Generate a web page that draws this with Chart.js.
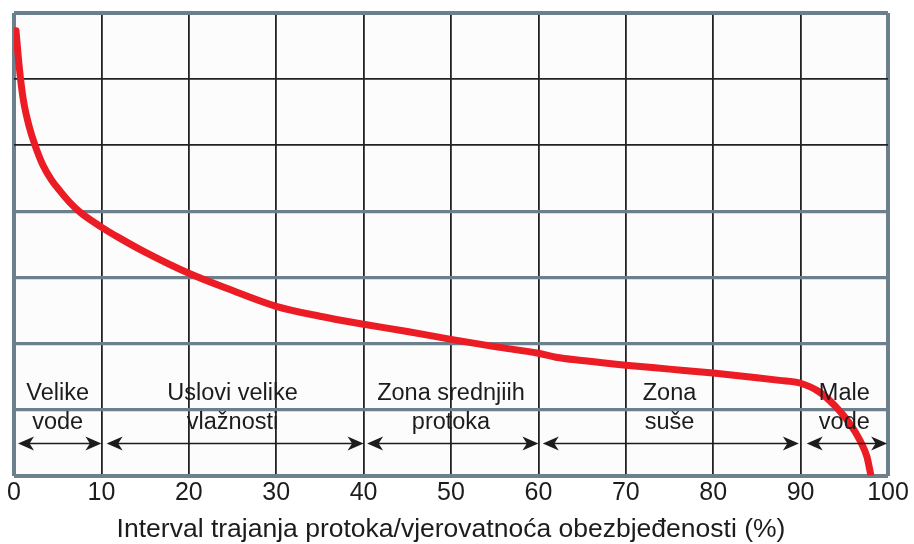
<!DOCTYPE html>
<html>
<head>
<meta charset="utf-8">
<script src="https://cdn.jsdelivr.net/npm/chart.js@4.4.1/dist/chart.umd.min.js"></script>
<style>
  html, body { margin: 0; padding: 0; background: #ffffff; }
  #wrap { width: 914px; height: 544px; position: relative; }
</style>
</head>
<body>
<div id="wrap"><canvas id="c" width="914" height="544"></canvas></div>
<script>
// ---- data ----
const durationPct = [0.23, 0.5, 0.75, 1.1, 1.7, 2.4, 3.3, 4.3, 5.3, 6.4, 7.6, 10, 12, 15, 20, 25, 30, 35, 40, 45, 50, 55, 60, 62, 65, 70, 75, 80, 85, 87.6, 89.9, 92.2, 94.1, 95.6, 96.8, 97.6, 98.0];
const flowValues  = [6.73, 6.32, 6.0, 5.66, 5.3, 5.0, 4.7, 4.47, 4.3, 4.13, 3.98, 3.76, 3.6, 3.38, 3.06, 2.80, 2.56, 2.41, 2.29, 2.18, 2.06, 1.95, 1.85, 1.79, 1.74, 1.67, 1.61, 1.55, 1.48, 1.44, 1.40, 1.26, 1.03, 0.79, 0.53, 0.28, 0.03];
const xTickValues = [0, 10, 20, 30, 40, 50, 60, 70, 80, 90, 100];
const zoneLine1   = ["Velike", "Uslovi velike", "Zona srednjiih", "Zona", "Male"];
const zoneLine2   = ["vode", "vlažnosti", "protoka", "suše", "vode"];
const zoneFrom    = [0, 10, 40, 60, 90];
const zoneTo      = [10, 40, 60, 90, 100];
const arrowFrom   = [0.46, 10.6, 40.4, 60.5, 90.7];
const arrowTo     = [10, 40, 60, 89.8, 99.9];
const xTitle = "Interval trajanja protoka/vjerovatnoća obezbjeđenosti (%)";

const FONT = "'Liberation Sans', Arial, sans-serif";
const GREY = '#6b7f8c';
const DARK = '#222222';

const bgPlugin = {
  id: 'bg',
  beforeDraw(chart) {
    const {ctx, chartArea: a} = chart;
    ctx.save();
    ctx.fillStyle = '#fcfcfc';
    ctx.fillRect(a.left, a.top, a.right - a.left, a.bottom - a.top);
    ctx.restore();
  }
};

function arrowHead(ctx, x, y, dir) {
  const L = 16, W = 7;
  ctx.beginPath();
  ctx.moveTo(x, y);
  ctx.lineTo(x - dir * L, y - W);
  ctx.lineTo(x - dir * L * 0.72, y);
  ctx.lineTo(x - dir * L, y + W);
  ctx.closePath();
  ctx.fill();
}

const zonePlugin = {
  id: 'zones',
  afterDatasetsDraw(chart) {
    const {ctx, scales: {x, y}} = chart;
    ctx.save();
    ctx.fillStyle = '#1c1c1c';
    ctx.strokeStyle = '#1c1c1c';
    ctx.font = '23.5px ' + FONT;
    ctx.textAlign = 'center';
    ctx.textBaseline = 'middle';
    const y1 = y.getPixelForValue(1.24);
    const y2 = y.getPixelForValue(0.80);
    const ya = y.getPixelForValue(0.485);
    for (let i = 0; i < zoneLine1.length; i++) {
      const cx = x.getPixelForValue((zoneFrom[i] + zoneTo[i]) / 2);
      ctx.fillText(zoneLine1[i], cx, y1);
      ctx.fillText(zoneLine2[i], cx, y2);
      const xa = x.getPixelForValue(arrowFrom[i]);
      const xb = x.getPixelForValue(arrowTo[i]);
      ctx.lineWidth = 1.6;
      ctx.beginPath();
      ctx.moveTo(xa + 6, ya);
      ctx.lineTo(xb - 6, ya);
      ctx.stroke();
      arrowHead(ctx, xa, ya, -1);
      arrowHead(ctx, xb, ya, 1);
    }
    ctx.restore();
  }
};

new Chart(document.getElementById('c'), {
  type: 'line',
  data: {
    datasets: [{
      data: durationPct.map((v, i) => ({x: v, y: flowValues[i]})),
      borderColor: '#ec1c24',
      borderWidth: 7,
      borderCapStyle: 'round',
      borderJoinStyle: 'round',
      pointRadius: 0,
      fill: false,
      cubicInterpolationMode: 'monotone'
    }]
  },
  options: {
    responsive: false,
    animation: false,
    devicePixelRatio: 1,
    layout: { padding: { left: 14, right: 26, top: 13, bottom: 1 } },
    plugins: { legend: { display: false }, tooltip: { enabled: false } },
    scales: {
      x: {
        type: 'linear',
        min: 0, max: 100,
        afterBuildTicks(scale) { scale.ticks = xTickValues.map(v => ({value: v})); },
        ticks: { color: '#1c1c1c', font: { size: 25, family: FONT }, padding: 3, maxRotation: 0 },
        border: { display: false },
        grid: {
          drawTicks: false,
          color: ctx => (ctx.tick && (ctx.tick.value === 0 || ctx.tick.value === 100)) ? GREY : DARK,
          lineWidth: ctx => (ctx.tick && (ctx.tick.value === 0 || ctx.tick.value === 100)) ? 4 : 1.8
        },
        title: { display: true, text: xTitle, color: '#1c1c1c', font: { size: 26.5, family: FONT, lineHeight: 1.0 }, padding: { top: 5, bottom: 0 } }
      },
      y: {
        type: 'linear',
        min: 0, max: 7,
        ticks: { display: false, stepSize: 1 },
        border: { display: false },
        afterFit(scale) { scale.width = 0; },
        grid: {
          drawTicks: false,
          color: ctx => (ctx.tick && (ctx.tick.value === 5 || ctx.tick.value === 6)) ? DARK : GREY,
          lineWidth: ctx => (ctx.tick && (ctx.tick.value === 5 || ctx.tick.value === 6)) ? 1.8 : ((ctx.tick && (ctx.tick.value === 0 || ctx.tick.value === 7)) ? 4 : 3.2)
        }
      }
    }
  },
  plugins: [bgPlugin, zonePlugin]
});
</script>
</body>
</html>
